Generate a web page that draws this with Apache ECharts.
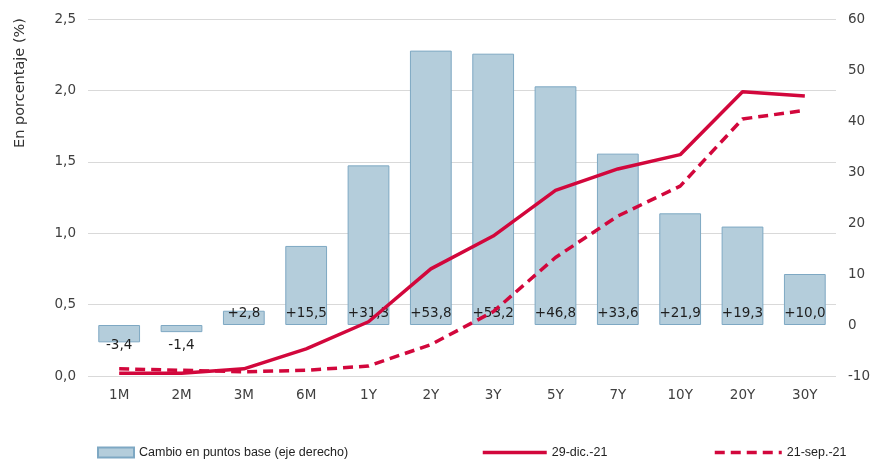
<!DOCTYPE html>
<html>
<head>
<meta charset="utf-8">
<script src="https://cdn.jsdelivr.net/npm/echarts@6/dist/echarts.min.js"></script>
<style>
  html, body { margin: 0; padding: 0; background: #fff; }
  #chart { width: 890px; height: 461px; }
</style>
</head>
<body>
<div id="chart"></div>
<script>
// Plazos de la curva
const plazos = ['1M', '2M', '3M', '6M', '1Y', '2Y', '3Y', '5Y', '7Y', '10Y', '20Y', '30Y'];
// Cambio en puntos básicos (eje derecho)
const cambioPb = [-3.4, -1.4, 2.8, 15.5, 31.3, 53.8, 53.2, 46.8, 33.6, 21.9, 19.3, 10.0];
// Rentabilidades en porcentaje (eje izquierdo)
const curvaDic = [0.02, 0.02, 0.05, 0.19, 0.38, 0.75, 0.98, 1.30, 1.45, 1.55, 1.99, 1.96];
const curvaSep = [0.05, 0.04, 0.03, 0.04, 0.07, 0.22, 0.45, 0.83, 1.12, 1.33, 1.80, 1.86];
const ticksIzq = [0, 0.5, 1.0, 1.5, 2.0, 2.5];
const ticksDer = [-10, 0, 10, 20, 30, 40, 50, 60];

const nombreBarras = 'Cambio en puntos base (eje derecho)';
const nombreDic = '29-dic.-21';
const nombreSep = '21-sep.-21';

const rojo = '#d2073c';
const fuente = 'DejaVu Sans';
const fuenteLeyenda = 'Liberation Sans';

function fmtCambio(v) {
  const s = Math.abs(v).toFixed(1).replace('.', ',');
  return (v < 0 ? '-' : '+') + s;
}

// Las etiquetas de los cambios negativos van debajo de la barra
const barData = cambioPb.map(v => ({
  value: v,
  label: v < 0
    ? { position: ['50%', 20], align: 'center', verticalAlign: 'middle' }
    : { position: 'insideBottom', distance: 5 }
}));

const estiloLeyenda = { fontFamily: fuenteLeyenda, fontSize: 12.5, color: '#222' };

const chart = echarts.init(document.getElementById('chart'), null, { renderer: 'canvas' });
chart.setOption({
  animation: false,
  backgroundColor: '#ffffff',
  textStyle: { fontFamily: fuente },
  grid: { left: 88, right: 54, top: 19, bottom: 85, containLabel: false },
  graphic: [{
    type: 'text',
    x: 20, y: 83,
    rotation: Math.PI / 2,
    style: {
      text: 'En porcentaje (%)',
      font: '14.5px "DejaVu Sans"',
      fill: '#333333',
      align: 'center',
      verticalAlign: 'middle'
    }
  }],
  legend: [
    {
      data: [{ name: nombreBarras, icon: 'rect' }],
      left: 92, top: 441,
      itemWidth: 36, itemHeight: 10,
      textStyle: estiloLeyenda
    },
    {
      data: [nombreDic],
      left: 476, top: 441,
      itemWidth: 64, itemHeight: 12,
      itemStyle: { opacity: 0 },
      lineStyle: { width: 3.5 },
      textStyle: estiloLeyenda
    },
    {
      data: [nombreSep],
      left: 708, top: 441,
      itemWidth: 67, itemHeight: 12,
      itemStyle: { opacity: 0 },
      lineStyle: { width: 3.5 },
      textStyle: estiloLeyenda
    }
  ],
  xAxis: {
    type: 'category',
    data: plazos,
    axisLine: { show: false },
    axisTick: { show: false },
    axisLabel: { color: '#404040', fontSize: 13.5, margin: 12 }
  },
  yAxis: [
    {
      type: 'value',
      min: ticksIzq[0], max: ticksIzq[ticksIzq.length - 1], interval: 0.5,
      axisLine: { show: false },
      axisTick: { show: false },
      splitLine: { lineStyle: { color: '#d9d9d9', width: 1 } },
      axisLabel: {
        color: '#404040', fontSize: 13.5, margin: 12,
        formatter: v => v.toFixed(1).replace('.', ',')
      }
    },
    {
      type: 'value',
      min: ticksDer[0], max: ticksDer[ticksDer.length - 1], interval: 10,
      axisLine: { show: false },
      axisTick: { show: false },
      splitLine: { show: false },
      axisLabel: { color: '#404040', fontSize: 13.5, margin: 12 }
    }
  ],
  series: [
    {
      name: nombreBarras,
      type: 'bar',
      yAxisIndex: 1,
      barWidth: '67%',
      data: barData,
      itemStyle: { color: '#b4cddb', borderColor: '#7ea8c3', borderWidth: 1 },
      label: {
        show: true,
        color: '#1e1e1e',
        fontSize: 13.5,
        fontFamily: fuente,
        formatter: p => fmtCambio(p.value)
      }
    },
    {
      name: nombreDic,
      type: 'line',
      yAxisIndex: 0,
      data: curvaDic,
      symbol: 'none',
      lineStyle: { color: rojo, width: 3.5 },
      itemStyle: { color: rojo },
      z: 3
    },
    {
      name: nombreSep,
      type: 'line',
      yAxisIndex: 0,
      data: curvaSep,
      symbol: 'none',
      lineStyle: { color: rojo, width: 3.5, type: [10, 6] },
      itemStyle: { color: rojo },
      z: 3
    }
  ]
});
</script>
</body>
</html>
